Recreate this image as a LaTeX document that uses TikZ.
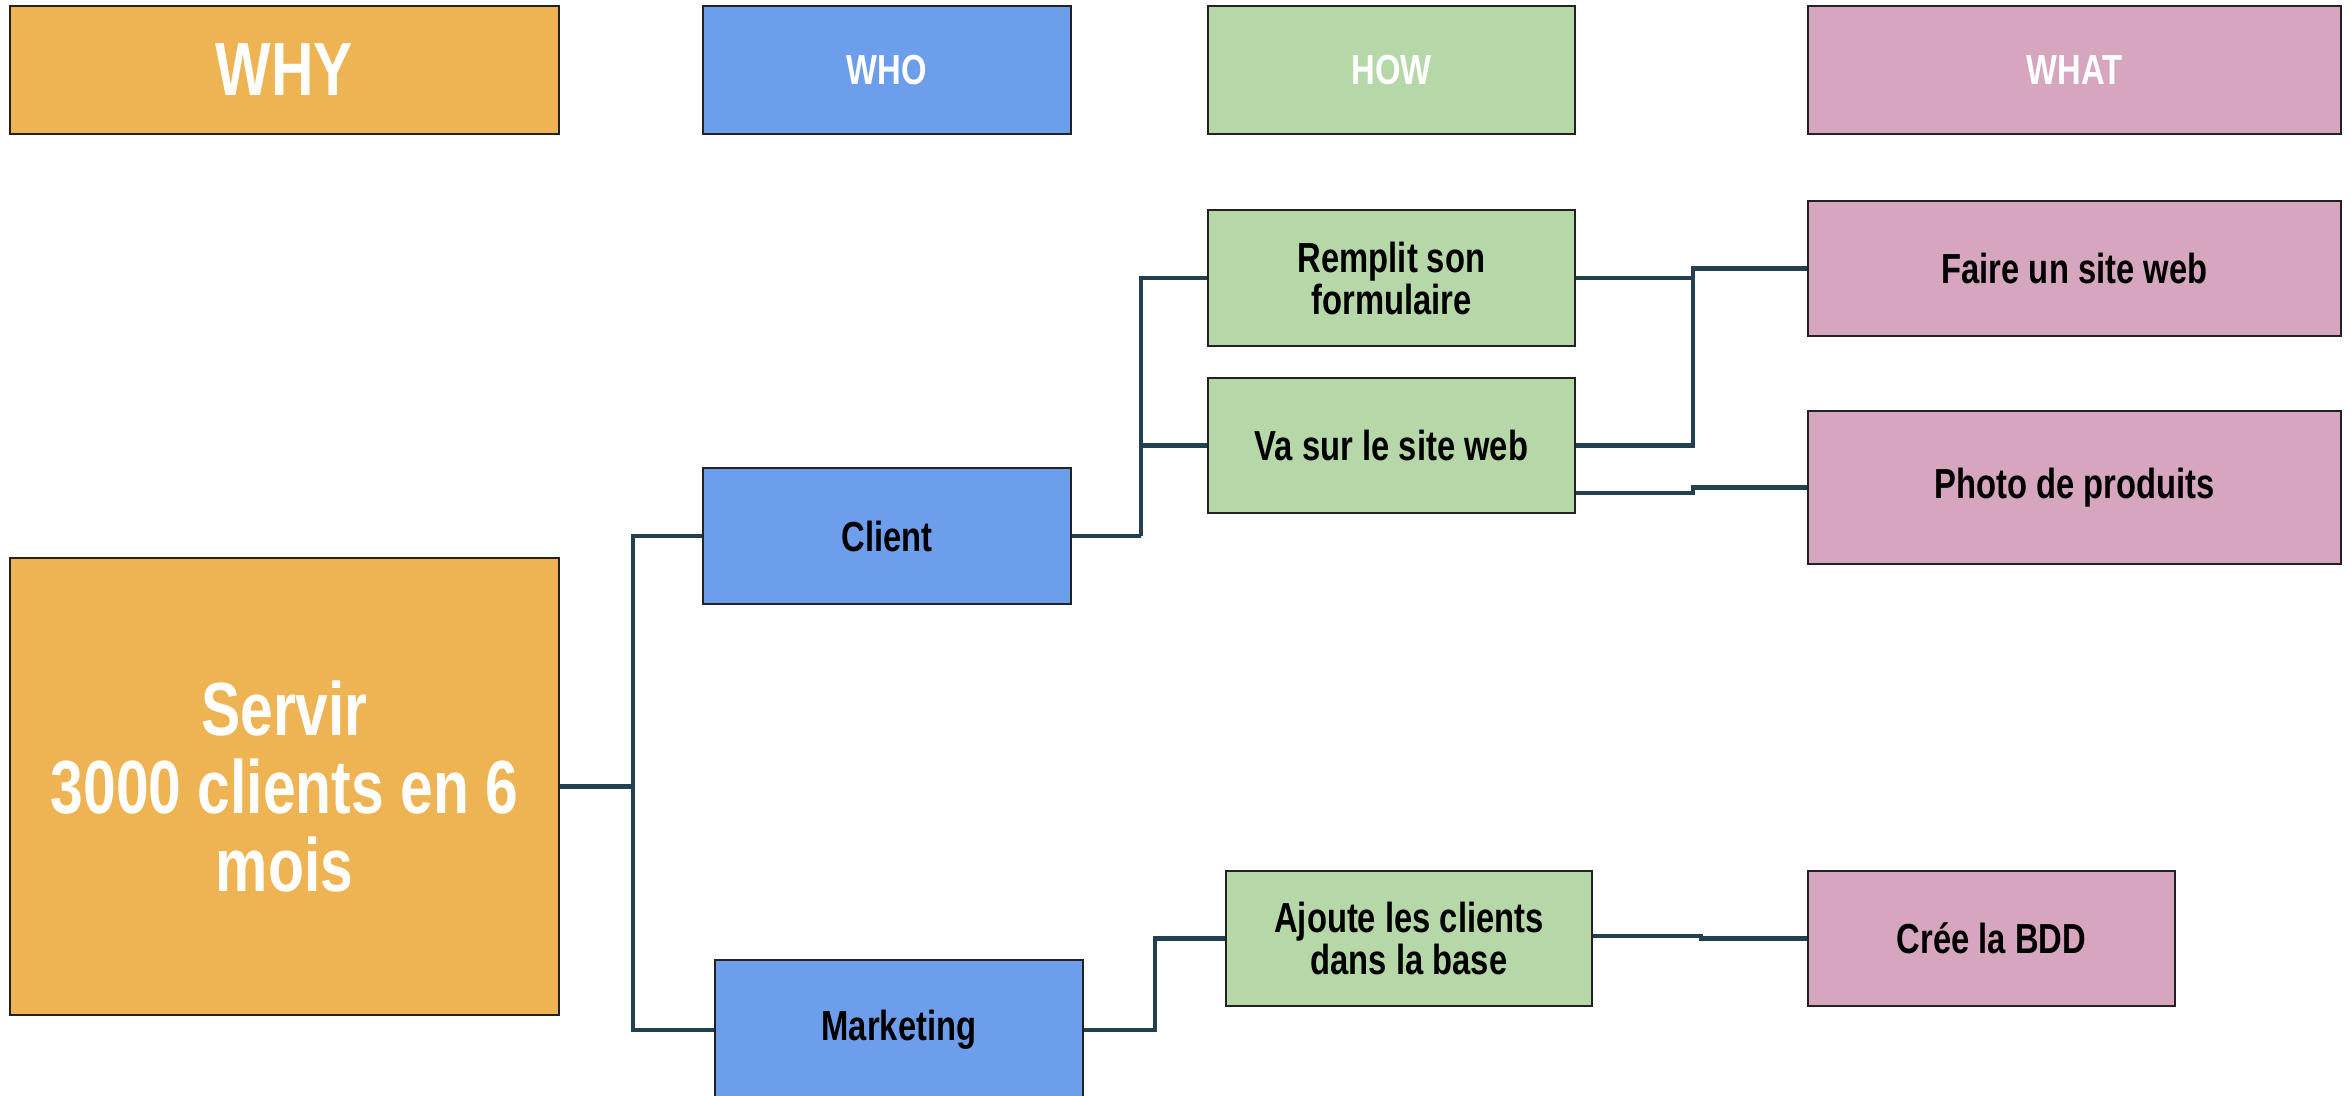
\documentclass[tikz,border=0pt]{standalone}
\usepackage{fontspec}
\setmainfont{Liberation Sans}[FakeStretch=0.78]
\usetikzlibrary{calc}
\definecolor{whycol}{HTML}{EEB353}
\definecolor{whocol}{HTML}{6D9EEB}
\definecolor{howcol}{HTML}{B6D7A8}
\definecolor{whatcol}{HTML}{D5A6BD}
\definecolor{linkcol}{HTML}{22404F}
\definecolor{edgecol}{HTML}{222222}
\begin{document}
\begin{tikzpicture}[x=0.5pt,y=-0.5pt,
  box/.style 2 args={draw=edgecol, line width=1pt, minimum width=#1*0.5pt,
    minimum height=#2*0.5pt, inner sep=0pt, align=center,
    font=\bfseries\fontsize{21}{21}\selectfont},
  big/.style={font=\bfseries\fontsize{37.7}{39}\selectfont},
  link/.style={draw=linkcol, line width=2.3pt}]
\path[use as bounding box, clip] (0,0) rectangle (2351,1096);
\fill[white] (0,0) rectangle (2351,1096);

% column headers
\node[box={549}{128}, fill=whycol, text=white, big] (why) at (284.5,70) {WHY};
\node[box={368}{128}, fill=whocol, text=white] (who) at (887,70) {WHO};
\node[box={367}{128}, fill=howcol, text=white] (how) at (1391.5,70) {HOW};
\node[box={533}{128}, fill=whatcol, text=white] (what) at (2074.5,70) {WHAT};

% goal
\node[box={549}{457}, fill=whycol, text=white, big] (goal) at (284.5,786.5) {Servir\\3000 clients en 6\\mois};

% actors
\node[box={368}{136}, fill=whocol] (client) at (887,536) {Client};
\node[box={368}{140}, fill=whocol] (marketing) at (899,1030) {Marketing};

% actions
\node[box={367}{136}, fill=howcol] (remplit) at (1391.5,278) {Remplit son\\formulaire};
\node[box={367}{135}, fill=howcol] (vasur) at (1391.5,445.5) {Va sur le site web};
\node[box={366}{135}, fill=howcol] (ajoute) at (1409,938.5) {Ajoute les clients\\dans la base};

% deliverables
\node[box={533}{135}, fill=whatcol] (faire) at (2074.5,268.5) {Faire un site web};
\node[box={533}{153}, fill=whatcol] (photo) at (2074.5,487.5) {Photo de produits};
\node[box={367}{135}, fill=whatcol] (bdd) at (1991.5,938.5) {Crée la BDD};

% connectors
\draw[link] (goal.east) -- ++(73,0) coordinate (jg);
\draw[link] (client.west) -| (jg) |- (marketing.west);

\draw[link] (client.east) -- ++(69,0) coordinate (jc);
\draw[link] (remplit.west) -| (jc) |- (vasur.west);

\draw[link] (remplit.east) -- ++(117,0) coordinate (jr);
\draw[link] (faire.west) -| (jr) |- (vasur.east);
\draw[link] ($(vasur.east)+(0,47.5)$) -- ++(117,0) |- (photo.west);

\draw[link] (marketing.east) -- ++(71,0) |- (ajoute.west);
\draw[link] ($(ajoute.east)+(0,-2.5)$) -- ++(108,0) |- (bdd.west);
\end{tikzpicture}
\end{document}
